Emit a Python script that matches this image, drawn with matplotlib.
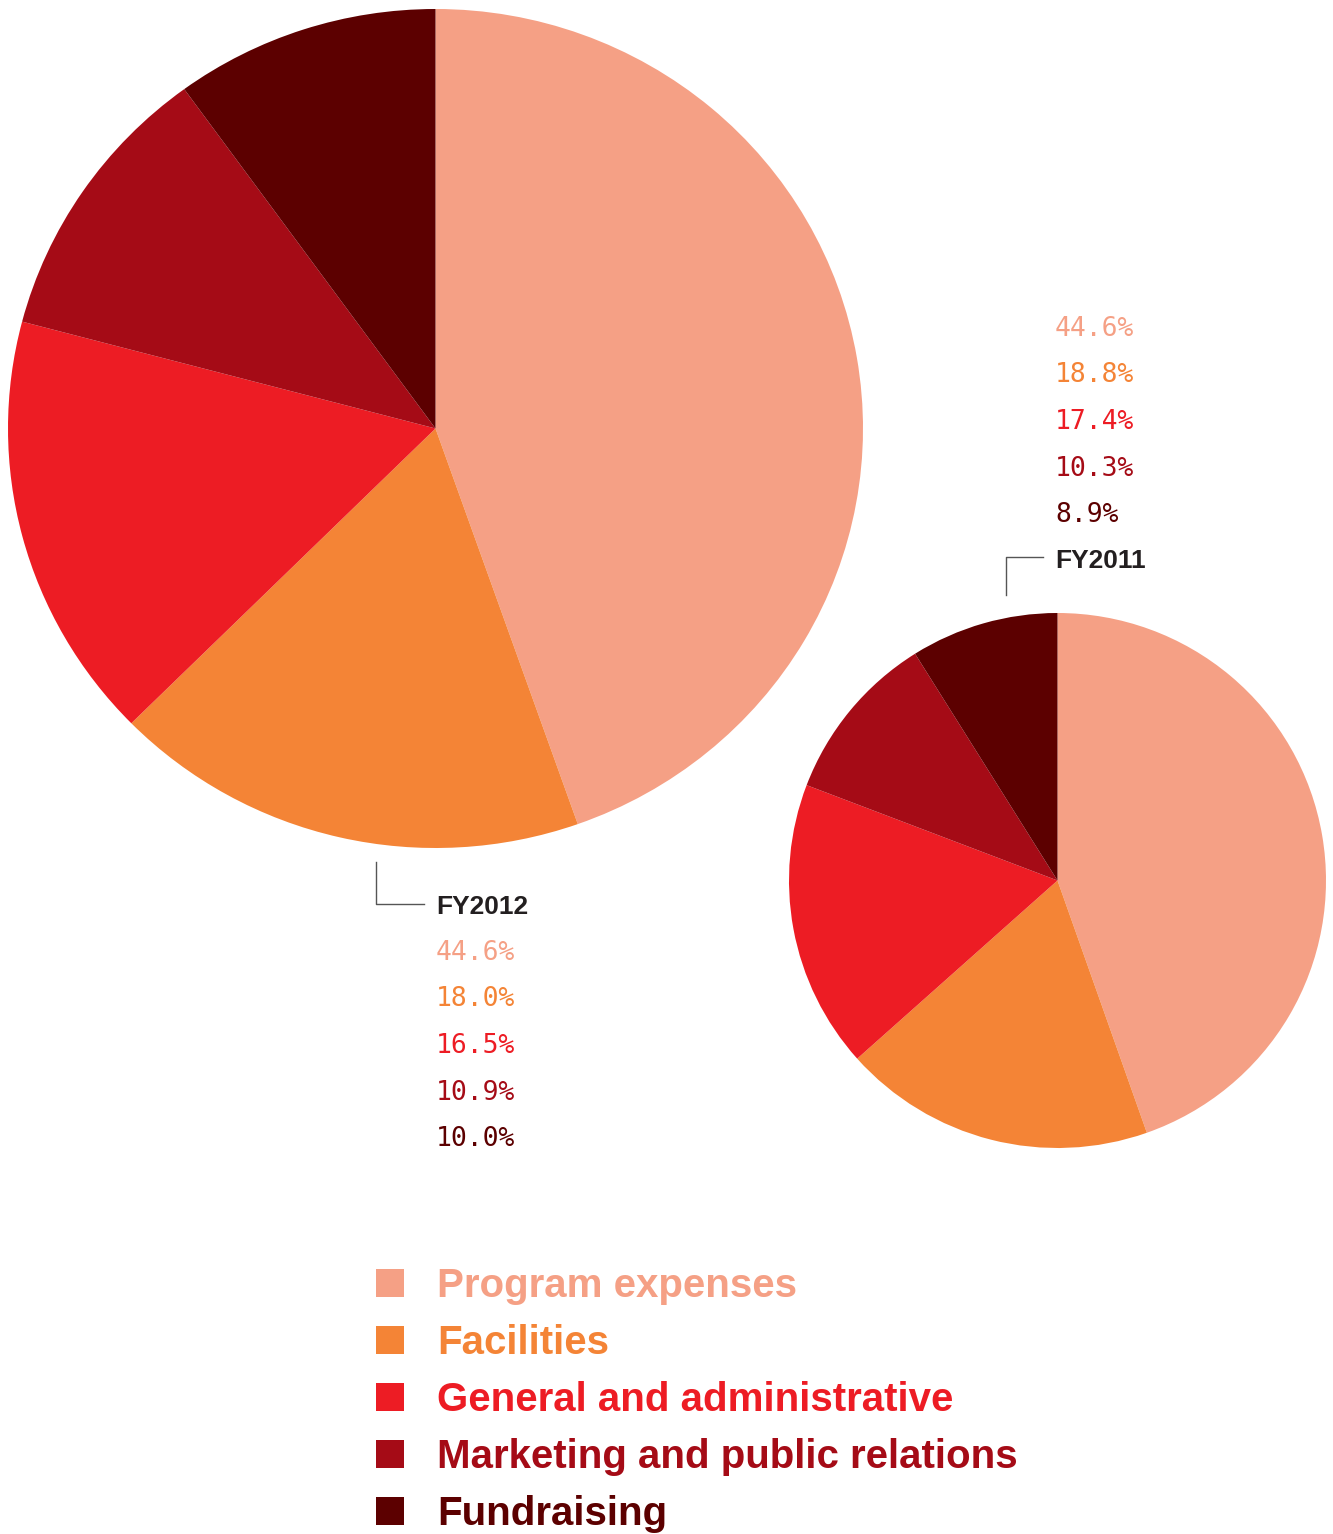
import matplotlib
matplotlib.use('Agg')
import matplotlib.pyplot as plt
from matplotlib.patches import Rectangle

# data
categories = ['Program expenses', 'Facilities', 'General and administrative',
              'Marketing and public relations', 'Fundraising']
fy2012 = [44.6, 18.0, 16.5, 10.9, 10.0]
fy2011 = [44.6, 18.8, 17.4, 10.3, 8.9]
colors = ['#F5A085', '#F48436', '#ED1C24', '#A50B16', '#5C0000']

W, H = 1333, 1534
fig = plt.figure(figsize=(W / 100, H / 100), dpi=100)


def pie_axes(x0, y0, x1, y1):
    # bounding box in pixels (y from top)
    ax = fig.add_axes([x0 / W, 1 - y1 / H, (x1 - x0) / W, (y1 - y0) / H])
    return ax


# big pie (FY2012)
ax_big = pie_axes(8, 9, 863, 848)
ax_big.pie(fy2012, colors=colors, startangle=90, counterclock=False,
           radius=1, wedgeprops=dict(linewidth=0))
ax_big.set_aspect('auto')
ax_big.set_xlim(-1, 1)
ax_big.set_ylim(-1, 1)
ax_big.axis('off')

# small pie (FY2011)
ax_small = pie_axes(789, 613, 1326, 1148)
ax_small.pie(fy2011, colors=colors, startangle=90, counterclock=False,
             radius=1, wedgeprops=dict(linewidth=0))
ax_small.set_aspect('auto')
ax_small.set_xlim(-1, 1)
ax_small.set_ylim(-1, 1)
ax_small.axis('off')

# overlay for labels, pixel coordinates
ov = fig.add_axes([0, 0, 1, 1], facecolor='none')
ov.set_xlim(0, W)
ov.set_ylim(H, 0)
ov.axis('off')

mono = 'DejaVu Sans Mono'
sans = 'Liberation Sans'
dark = '#231F20'
step = 46.5

# FY2011 labels (above small pie)
for i, v in enumerate(fy2011):
    ov.text(1055, 336 + i * step, f'{v:.1f}%', color=colors[i], fontsize=19,
            family=mono, va='baseline', ha='left')
ov.text(1055, 568, 'FY2011', color=dark, fontsize=19, family=sans,
        weight='bold', va='baseline', ha='left')
ov.plot([1043, 1006, 1006], [557, 557, 595], color='#555555', lw=1)

# FY2012 labels (below big pie)
ov.text(436, 914, 'FY2012', color=dark, fontsize=19, family=sans,
        weight='bold', va='baseline', ha='left')
for i, v in enumerate(fy2012):
    ov.text(436, 960 + i * step, f'{v:.1f}%', color=colors[i], fontsize=19,
            family=mono, va='baseline', ha='left')
ov.plot([376, 376, 424], [862, 904, 904], color='#555555', lw=1)

# legend
for i, (cat, col) in enumerate(zip(categories, colors)):
    top = 1269 + i * 57
    ov.add_patch(Rectangle((376, top), 28, 28, color=col, lw=0))
    ov.text(437, top + 28, cat, color=col, fontsize=29, family=sans,
            weight='bold', va='baseline', ha='left')

plt.savefig('out.png', dpi=100)
